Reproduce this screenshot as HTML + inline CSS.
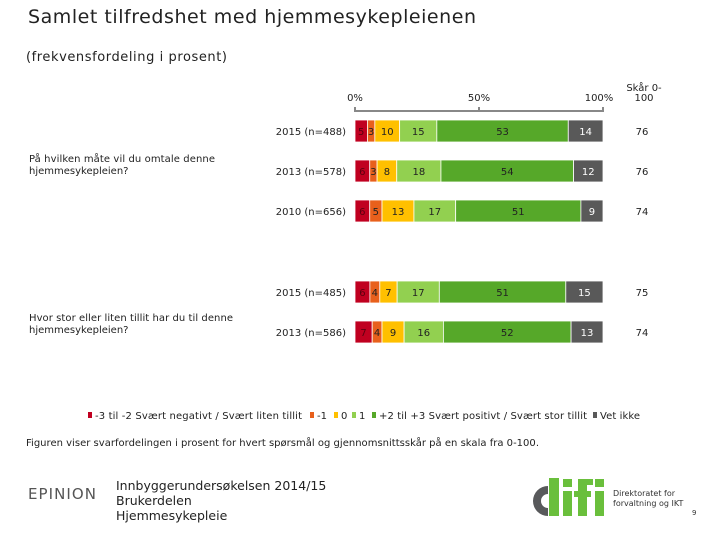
<!DOCTYPE html>
<html><head><meta charset="utf-8"><style>
html,body{margin:0;padding:0;background:#fff;}
svg{display:block;font-family:"DejaVu Sans","Liberation Sans",sans-serif;}
</style></head><body>
<svg id="c" width="720" height="540" viewBox="0 0 720 540">
<text x="28" y="23" font-size="19" fill="#222" textLength="448">Samlet tilfredshet med hjemmesykepleienen</text>
<text x="26" y="61" font-size="13" fill="#222" textLength="201">(frekvensfordeling i prosent)</text>
<g id="axis"></g>
<g id="bars"></g>
<text x="29" y="162" font-size="10" fill="#222" textLength="186">På hvilken måte vil du omtale denne</text>
<text x="29" y="174" font-size="10" fill="#222">hjemmesykepleien?</text>
<text x="29" y="321" font-size="10" fill="#222" textLength="204">Hvor stor eller liten tillit har du til denne</text>
<text x="29" y="333" font-size="10" fill="#222">hjemmesykepleien?</text>
<g id="legend"></g>
<text x="26" y="446" font-size="10" fill="#222" textLength="513">Figuren viser svarfordelingen i prosent for hvert spørsmål og gjennomsnittsskår på en skala fra 0-100.</text>
<text x="28" y="499" font-size="15" fill="#555" letter-spacing="1" textLength="69">EPINION</text>
<g font-size="12.5" fill="#222">
<text x="116" y="490">Innbyggerundersøkelsen 2014/15</text>
<text x="116" y="505">Brukerdelen</text>
<text x="116" y="520">Hjemmesykepleie</text>
</g>
<g>
<path d="M548 486 a14 14 0 1 0 0 30 l0 -8 a6 6 0 1 1 0 -14 z" fill="#58595b"/>
<rect x="549" y="478" width="10" height="38" fill="#6abf3c"/>
<rect x="563" y="491" width="9" height="25" fill="#6abf3c"/><rect x="563" y="479" width="9" height="8" fill="#6abf3c"/>
<rect x="578" y="483" width="9" height="33" fill="#6abf3c"/><rect x="574" y="491" width="17" height="6" fill="#6abf3c"/><rect x="578" y="479" width="15" height="6" fill="#6abf3c"/>
<rect x="595" y="491" width="9" height="25" fill="#6abf3c"/><rect x="595" y="479" width="9" height="8" fill="#6abf3c"/>
<text x="613" y="496" font-size="8" fill="#333">Direktoratet for</text>
<text x="613" y="506" font-size="8" fill="#333">forvaltning og IKT</text>
</g>
<text x="692" y="515" font-size="7" fill="#333">9</text>
</svg>
<script>
const rowLabels = ["2015 (n=488)","2013 (n=578)","2010 (n=656)","2015 (n=485)","2013 (n=586)"];
const sNeg = [5,6,6,6,7];
const sMinus1 = [3,3,5,4,4];
const sZero = [10,8,13,7,9];
const sOne = [15,18,17,17,16];
const sPos = [53,54,51,51,52];
const sDK = [14,12,9,15,13];
const scores = [76,76,74,75,74];
const axisTicks = ["0%","50%","100%"];
const seriesNames = ["-3 til -2 Svært negativt / Svært liten tillit","-1","0","1","+2 til +3 Svært positivt / Svært stor tillit","Vet ikke"];
const colors = ["#c00020","#e8601c","#ffc000","#92d050","#56a829","#595959"];
const series = [sNeg,sMinus1,sZero,sOne,sPos,sDK];
const rowY = [131,171,211,292,332];
const NS="http://www.w3.org/2000/svg";
const x0=355,x1=603;
function xs(p){return x0+(x1-x0)*p/100;}
function mk(tag,attrs,parent){const e=document.createElementNS(NS,tag);for(const k in attrs)e.setAttribute(k,attrs[k]);parent.appendChild(e);return e;}
const ax=document.getElementById('axis');
let l=mk('path',{d:`M${xs(0)} 107 V111 H${xs(100)} V107 M${xs(50)} 107 V111`,stroke:'#888','stroke-width':2,fill:'none'},ax);


[0,50,100].forEach((v,i)=>{const t=mk('text',{x:xs(v)+(i==2?-4:0),y:101,'font-size':10,'text-anchor':'middle',fill:'#222'},ax);t.textContent=axisTicks[i];

});
let h=mk('text',{x:644,y:91,'font-size':10,'text-anchor':'middle',fill:'#222'},ax);h.textContent="Skår 0-";


h=mk('text',{x:644,y:101,'font-size':10,'text-anchor':'middle',fill:'#222'},ax);h.textContent="100";
const bg=document.getElementById('bars');
rowLabels.forEach((lab,r)=>{
 const cy=rowY[r];
 const t=mk('text',{x:346,y:cy+4,'font-size':10,'text-anchor':'end',fill:'#222'},bg);t.textContent=lab;
 
 
 let tot=0;series.forEach(s=>tot+=s[r]);
 let acc=0;
 series.forEach((s,i)=>{
  const v=s[r];const a=xs(acc/tot*100),b=xs((acc+v)/tot*100);acc+=v;
  const rc=mk('rect',{x:a,y:cy-11,width:b-a,height:22,fill:colors[i],stroke:'#fff','stroke-width':0.8},bg);
  
  
  const tx=mk('text',{x:(a+b)/2,y:cy+4,'font-size':10,'text-anchor':'middle',fill:i==0?'#5a0010':(i==5?'#fff':'#222')},bg);tx.textContent=v;
  
  
 });
 const sc=mk('text',{x:642,y:cy+4,'font-size':10,'text-anchor':'middle',fill:'#222'},bg);sc.textContent=scores[r];
 
 
});
const lg=document.getElementById('legend');
const lx=[88,310,334,352,372,593];
seriesNames.forEach((n,i)=>{
 const m=mk('rect',{x:lx[i],y:412,width:4,height:6,fill:colors[i]},lg);
 
 
 const t=mk('text',{x:lx[i]+7,y:419,'font-size':10,fill:'#222'},lg);t.textContent=n;
 if(i==0)t.setAttribute('textLength',207);
 if(i==4)t.setAttribute('textLength',208);
 if(i==5)t.setAttribute('textLength',40);
 
 
});
</script>
</body></html>
